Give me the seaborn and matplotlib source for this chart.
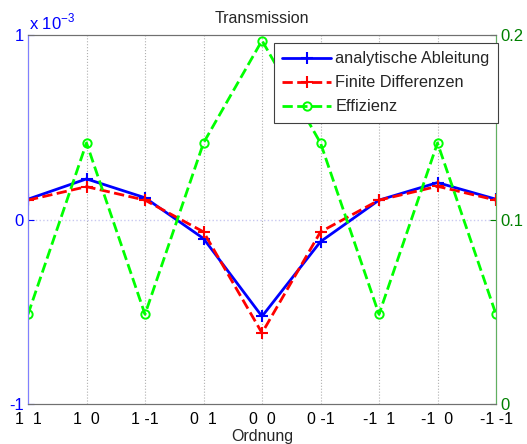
import numpy as np
import pandas as pd
import seaborn as sns
import matplotlib
matplotlib.use("Agg")
import matplotlib.pyplot as plt
from matplotlib.ticker import FixedLocator

# --- DATEN ---
ordnung = ['1  1', '1  0', '1 -1', '0  1', '0  0', '0 -1', '-1  1', '-1  0', '-1 -1']
analytisch = [0.110, 0.220, 0.118, -0.103, -0.525, -0.120, 0.105, 0.200, 0.110]  # x 1e-3
finite_diff = [0.105, 0.178, 0.105, -0.067, -0.615, -0.067, 0.105, 0.180, 0.105]  # x 1e-3
effizienz = [0.0486, 0.1415, 0.0486, 0.1415, 0.197, 0.1415, 0.0486, 0.1415, 0.0486]

df = pd.DataFrame({
    'idx': np.arange(1, len(ordnung) + 1),
    'analytisch': np.array(analytisch) * 1e-3,
    'finite': np.array(finite_diff) * 1e-3,
    'effizienz': effizienz,
})

sns.set_style('white')
plt.rcParams['font.family'] = ['Liberation Sans', 'DejaVu Sans']
plt.rcParams['font.size'] = 11

fig = plt.figure(figsize=(5.27, 4.44), dpi=100)
ax = fig.add_axes([28 / 527, 40 / 444, 468 / 527, 369 / 444])
ax2 = ax.twinx()

blue = '#0000ff'
green = '#00ff00'
dgreen = '#008000'

sns.lineplot(data=df, x='idx', y='analytisch', ax=ax, color=blue, lw=2,
             marker='+', markersize=8, mew=1.5, mec=blue,
             label='analytische Ableitung', legend=False)
sns.lineplot(data=df, x='idx', y='finite', ax=ax, color='red', lw=2, linestyle='--',
             marker='+', markersize=8, mew=1.5, mec='red',
             label='Finite Differenzen', legend=False)
sns.lineplot(data=df, x='idx', y='effizienz', ax=ax2, color=green, lw=2, linestyle='--',
             marker='o', markersize=6, mfc='none', mec=green, mew=1.4,
             label='Effizienz', legend=False)

ax.set_xlim(1, len(ordnung))
ax.set_ylim(-1e-3, 1e-3)
ax2.set_ylim(0, 0.2)

ax.set_xticks(df['idx'])
ax.set_xticklabels(ordnung, fontsize=11.5)
ax.yaxis.set_major_locator(FixedLocator([-1e-3, 0, 1e-3]))
ax.set_yticklabels(['-1', '0', '1'])
ax2.yaxis.set_major_locator(FixedLocator([0, 0.1, 0.2]))
ax2.set_yticklabels(['0', '0.1', '0.2'])

# Gitter
for xv in df['idx'][1:-1]:
    ax.axvline(xv, color='#b0b0b0', lw=0.8, ls=':', zorder=0)
ax.axhline(0, color='#c8c8f0', lw=1.0, ls=':', zorder=0)

ax.set_xlabel('Ordnung', labelpad=1, fontsize=11.5)
ax.set_ylabel('')
ax2.set_ylabel('')
ax.set_title('Transmission', pad=9, fontsize=11.5)

ax.tick_params(axis='x', length=0, pad=6, colors='black')
ax.tick_params(axis='y', colors=blue, length=4, direction='in', pad=3, labelsize=12)
ax2.tick_params(axis='y', colors=dgreen, length=4, direction='in', pad=3, labelsize=12)

for a in (ax, ax2):
    for s in a.spines.values():
        s.set_color('#707070')
        s.set_linewidth(0.8)
ax2.spines['left'].set_color('#8080ff')
ax2.spines['right'].set_color('#60b060')

fig.text(29 / 527, 1 - 29 / 444, r'x 10$^{\mathregular{-3}}$', color=blue, fontsize=12,
         va='baseline', ha='left')

h1, l1 = ax.get_legend_handles_labels()
h2, l2 = ax2.get_legend_handles_labels()
leg = ax2.legend(h1 + h2, l1 + l2, loc='upper right', bbox_to_anchor=(1.004, 0.978),
                 borderaxespad=0, fancybox=False, framealpha=1, edgecolor='#404040',
                 borderpad=0.5, handlelength=3.0, handletextpad=0.25, labelspacing=0.55,
                 fontsize=11.8)
leg.get_frame().set_linewidth(0.8)

fig.savefig('out.png', dpi=100)
